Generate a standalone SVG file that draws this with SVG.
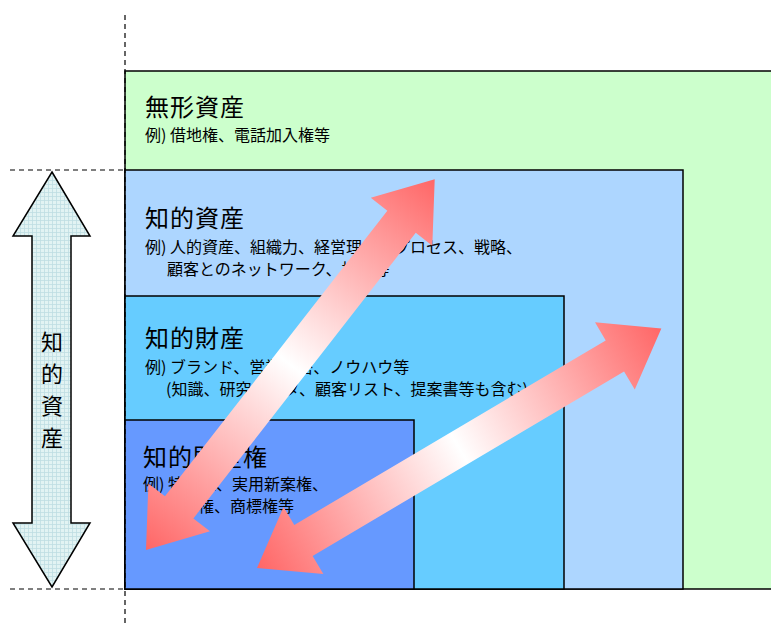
<svg xmlns="http://www.w3.org/2000/svg" width="771" height="627" viewBox="0 0 771 627">
<style>
.box{stroke:#000;stroke-width:1.5}
.h{font-family:"Noto Sans CJK JP","Noto Sans",sans-serif;font-size:24px;fill:#000;letter-spacing:1px}
.s{font-family:"Noto Sans CJK JP","Noto Sans",sans-serif;font-size:16px;fill:#000}
.dash{stroke:#000;stroke-width:1.2;stroke-dasharray:5,4;fill:none}
.v{font-family:"Noto Sans CJK JP","Noto Sans",sans-serif;font-size:22px;fill:#000;text-anchor:middle}
</style>
<defs>
<pattern id="grid" width="4" height="4" patternUnits="userSpaceOnUse">
<rect width="4" height="4" fill="#E2F3F3"/>
<path d="M0,0.5H4M0.5,0V4" stroke="#BFDDE2" stroke-width="0.8"/>
</pattern>
<linearGradient id="pk" x1="0" y1="0" x2="1" y2="0">
<stop offset="0" stop-color="#FF6666"/>
<stop offset="0.5" stop-color="#FFFFFF"/>
<stop offset="1" stop-color="#FF6666"/>
</linearGradient>
<path id="arr" d="M0,0 L54,-39 L54,-18 L416,-18 L416,-39 L470,0 L416,39 L416,18 L54,18 L54,39 Z"/>
</defs>
<rect width="771" height="627" fill="#fff"/>

<g id="mukei">
<rect class="box" x="125" y="71" width="660" height="518" fill="#CCFFCC"/>
<text class="h" x="145" y="116">無形資産</text>
<text class="s" x="145" y="141">例) 借地権、電話加入権等</text>
</g>
<g id="chitekishisan">
<rect class="box" x="125" y="170" width="558" height="419" fill="#ADD6FF"/>
<text class="h" x="145" y="227">知的資産</text>
<text class="s" x="145" y="253">例) 人的資産、組織力、経営理念、プロセス、戦略、</text>
<text class="s" x="167" y="275">顧客とのネットワーク、技能等</text>
</g>
<g id="chitekizaisan">
<rect class="box" x="125" y="296" width="439" height="293" fill="#66CCFF"/>
<text class="h" x="145" y="347">知的財産</text>
<text class="s" x="145" y="373">例) ブランド、営業秘密、ノウハウ等</text>
<text class="s" x="166" y="395">(知識、研究データ、顧客リスト、提案書等も含む)</text>
</g>
<g id="chitekizaisanken">
<rect class="box" x="125" y="420" width="289" height="169" fill="#6699FF"/>
<text class="h" x="143" y="466">知的財産権</text>
<text class="s" x="143" y="490">例) 特許権、実用新案権、</text>
<text class="s" x="166" y="512">意匠権、商標権等</text>
</g>

<g id="guides">
<line class="dash" x1="125" y1="15" x2="125" y2="627"/>
<line class="dash" x1="10" y1="170" x2="125" y2="170"/>
<line class="dash" x1="10" y1="589" x2="125" y2="589"/>
</g>

<g id="leftarrow">
<path d="M52,172 L90,236 L71,236 L71,523 L90,523 L52,587 L13,523 L32,523 L32,236 L13,236 Z" fill="url(#grid)" stroke="#000" stroke-width="1.5" stroke-linejoin="miter"/>
<text class="v" x="52" y="350">知</text>
<text class="v" x="52" y="382">的</text>
<text class="v" x="52" y="414">資</text>
<text class="v" x="52" y="446">産</text>
</g>

<g id="connectors">
<use href="#arr" fill="url(#pk)" transform="translate(146,550) rotate(-52.1)"/>
<use href="#arr" fill="url(#pk)" transform="translate(257,568) rotate(-30.65)"/>
</g>
</svg>
